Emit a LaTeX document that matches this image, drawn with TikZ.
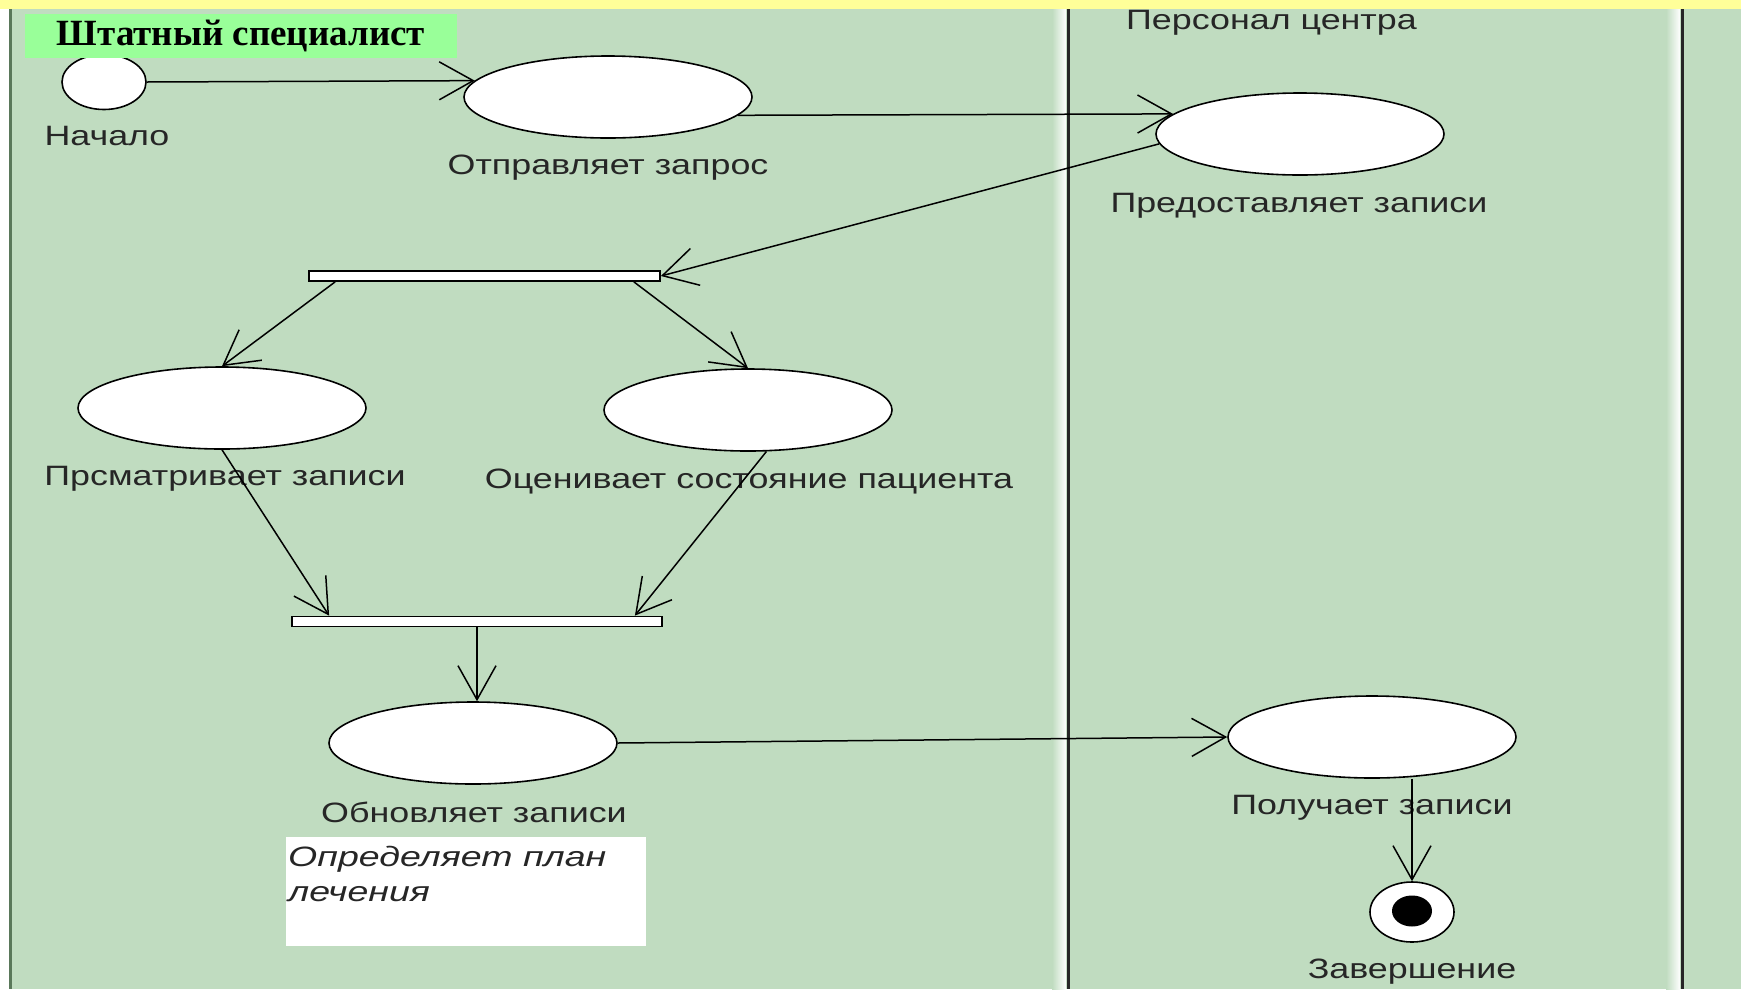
\documentclass[tikz,border=0pt]{standalone}
\usepackage{fontspec}
\setmainfont{Liberation Sans}
\newfontfamily\umlfont[FakeStretch=1.28]{Liberation Sans}
\newfontfamily\notefont[FakeStretch=1.34]{Liberation Sans}
\newfontfamily\tagfont{Liberation Serif}
\usetikzlibrary{arrows.meta,shapes.geometric}

\definecolor{lanegreen}{RGB}{192,220,192}
\definecolor{bandyellow}{RGB}{255,255,153}
\definecolor{taggreen}{RGB}{153,255,153}
\definecolor{edgegreen}{RGB}{90,120,90}

\tikzset{
  activity/.style={ellipse, draw=black, fill=white, line width=1.6pt,
    minimum width=288pt, minimum height=82pt, inner sep=0pt},
  bar/.style={rectangle, draw=black, fill=white, line width=1.8pt,
    minimum height=10pt, inner sep=0pt},
  lbl/.style={inner sep=0pt, text=black!85,
    font=\umlfont\fontsize{28}{33}\selectfont},
  notetext/.style={inner sep=0pt, anchor=west, text=black!85,
    font=\notefont\itshape\fontsize{28}{33}\selectfont},
  flow/.style={line width=1.5pt, -{Straight Barb[length=34pt,width=38pt,line width=1.5pt]}},
}

\begin{document}
\begin{tikzpicture}[x=1pt,y=-1pt]
\useasboundingbox (0,0) rectangle (1741,989);

% swimlane background
\fill[white] (0,0) rectangle (1741,989);
\fill[lanegreen] (12,0) rectangle (1741,989);
\fill[edgegreen] (9,0) rectangle (12,989);

% lane separators (raised look: light stripe, then dark rule)
\shade[left color=lanegreen, right color=white] (1052,0) rectangle (1066,989);
\fill[black!85] (1067,0) rectangle (1070,989);
\shade[left color=lanegreen, right color=white] (1666,0) rectangle (1680,989);
\fill[black!85] (1681,0) rectangle (1684,989);

% lane headers
\node[lbl, anchor=west] (lane2) at (1126,23) {Персонал центра};

% start state
\node[ellipse, draw=black, fill=white, line width=1.6pt, minimum width=84pt,
  minimum height=55pt, inner sep=0pt] (start) at (104,82) {};
\node[lbl] (start-l) at (107,136) {Начало};

% activities
\node[activity] (send) at (608,97) {};
\node[lbl] (send-l) at (608,168) {Отправляет запрос};

\node[activity] (give) at (1300,134) {};
\node[lbl] (give-l) at (1299,206) {Предоставляет записи};

\node[bar, minimum width=351pt] (fork) at (484.5,276) {};

\node[activity] (view) at (222,408) {};
\node[lbl] (view-l) at (225,479) {Прсматривает записи};

\node[activity] (rate) at (748,410) {};
\node[lbl] (rate-l) at (749,482) {Оценивает состояние пациента};

\node[bar, minimum width=370pt] (join) at (477,621.5) {};

\node[activity] (upd) at (473,743) {};
\node[lbl] (upd-l) at (474,812) {Обновляет записи};

\node[activity] (recv) at (1372,737) {};
\node[lbl] (recv-l) at (1372,808) {Получает записи};

% note
\node[rectangle, fill=white, minimum width=360pt, minimum height=109pt,
  inner sep=0pt] (note) at (466,891.5) {};
\node[notetext] (note-1) at (288,859) {Определяет план};
\node[notetext] (note-2) at (288,894) {лечения};

% final state
\node[ellipse, draw=black, fill=white, line width=1.6pt, minimum width=84pt,
  minimum height=60pt, inner sep=0pt] (end) at (1412,912) {};
\node[ellipse, fill=black, minimum width=40pt, minimum height=31pt,
  inner sep=0pt] (end-dot) at (1412,911) {};
\node[lbl] (end-l) at (1412,972) {Завершение};

% transitions
\draw[flow] (start.east) -- (send.173);
\draw[flow] (send.-8.5) -- (give.171.5);
\draw[flow] (give.184) -- (fork.east);
\draw[flow] ([xshift=27pt]fork.south west) -- (view.north);
\draw[flow] ([xshift=-27pt]fork.south east) -- (rate.north);
\draw[flow] (view.south) -- ([xshift=38pt]join.north west);
\draw[flow] (rate.-66) -- ([xshift=-28pt]join.north east);
\draw[flow] (join.south) -- (join.south |- upd.north);
\draw[flow] (upd.east) -- (recv.west);
\draw[flow] (recv.south -| end.north) -- (end.north);

% yellow frame band and lane tag
\fill[bandyellow] (0,0) rectangle (1741,9);
\node[rectangle, fill=taggreen, minimum width=432pt, minimum height=44pt,
  inner sep=0pt, font=\tagfont\bfseries\fontsize{37}{43}\selectfont]
  (tag) at (241,36) {Штатный специалист};
\end{tikzpicture}
\end{document}
